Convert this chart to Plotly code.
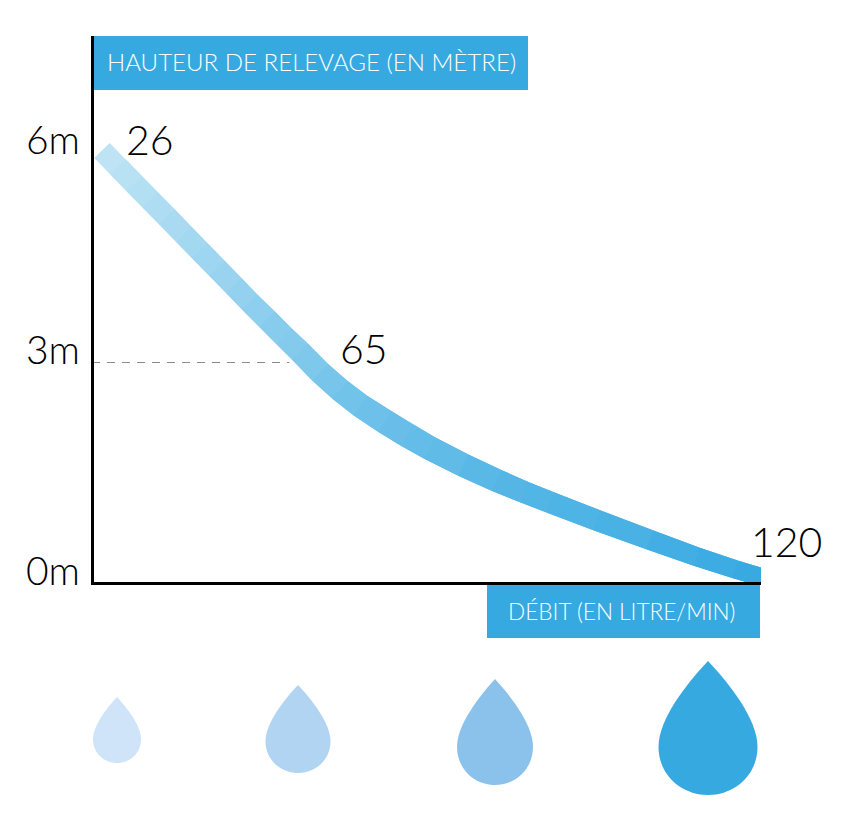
import math
import plotly.graph_objects as go

# ---- data ----
curve_x = [1.5, 3.9, 6.3, 8.7, 11.2, 13.75, 16.1, 18.7, 21.2, 23.6, 26.2, 28.7, 31.1, 34.1,
           37.1, 40.1, 43.8, 47.1, 50.5, 55.5, 60.5, 64.7, 68.5, 75.5, 83.4, 90.4, 96.1, 101]
curve_y = [5.87, 5.65, 5.42, 5.20, 4.97, 4.73, 4.51, 4.27, 4.04, 3.81, 3.58, 3.35, 3.14, 2.86,
           2.62, 2.41, 2.19, 2.006, 1.83, 1.60, 1.39, 1.23, 1.094, 0.848, 0.584, 0.357, 0.187, 0.054]
reference_x = [0, 29.5]
reference_y = [2.993, 2.993]
y_labels = ["6m", "3m", "0m"]
flow_labels = ["26", "65", "120"]
y_title = "HAUTEUR DE RELEVAGE (EN MÈTRE)"
x_title = "DÉBIT (EN LITRE/MIN)"

# ---- layout constants (pixels of the 856x813 page) ----
W, H = 856, 813
AX_L, AX_R, AX_T, AX_B = 94, 761, 36, 582
PX_PER_PCT, PX_PER_M = 6.69, 73.67
FONT = "Lato Light, Lato"
BLUE = "#36A9E1"
GRAD_A = (190, 227, 245)
GRAD_B = (54, 169, 225)
WIDTHS = [21.5, 21.5, 21.5, 21.5, 21.5, 21.5, 21.5, 21.5, 21.5, 21.5, 22, 22, 22.5, 23, 23.5, 24, 24.5,
          24.5, 24, 23.5, 23, 22, 21.5, 21, 20, 19, 18.5, 18]


def px(x):
    return x / W


def py(y):
    return 1 - y / H


fig = go.Figure()

fig.add_trace(go.Scatter(x=reference_x, y=reference_y, mode="lines", showlegend=False, hoverinfo="skip",
                         line=dict(color="#8a8a8a", width=1, dash="8px,7px")))

# ribbon of the thick curve: each piece is a quad around the centre line, so the gradient has no seams
n = len(curve_x)
left, right = [], []
for i in range(n):
    a, b = max(i - 1, 0), min(i + 1, n - 1)
    dx = (curve_x[b] - curve_x[a]) * PX_PER_PCT
    dy = (curve_y[b] - curve_y[a]) * PX_PER_M
    d = math.hypot(dx, dy)
    nx, ny = -dy / d, dx / d
    hw = WIDTHS[i] / 2
    left.append((curve_x[i] + nx * hw / PX_PER_PCT, curve_y[i] + ny * hw / PX_PER_M))
    right.append((curve_x[i] - nx * hw / PX_PER_PCT, curve_y[i] - ny * hw / PX_PER_M))

for i in range(n - 1):
    t = (curve_y[0] - curve_y[i]) / (curve_y[0] - curve_y[-1])
    col = f"rgb({','.join(str(round(a + (b - a) * t)) for a, b in zip(GRAD_A, GRAD_B))})"
    j = min(i + 2, n - 1)
    xs = [p[0] for p in left[i:j + 1]] + [p[0] for p in right[i:j + 1]][::-1]
    ys = [p[1] for p in left[i:j + 1]] + [p[1] for p in right[i:j + 1]][::-1]
    fig.add_trace(go.Scatter(x=xs, y=ys, mode="lines", fill="toself", fillcolor=col, showlegend=False,
                             hoverinfo="skip", line=dict(width=0, color=col)))

shapes = [
    dict(type="rect", xref="paper", yref="paper", x0=px(93), x1=px(528), y0=py(36), y1=py(90),
         fillcolor=BLUE, line_width=0, layer="below"),
    dict(type="rect", xref="paper", yref="paper", x0=px(487), x1=px(760), y0=py(584), y1=py(638),
         fillcolor=BLUE, line_width=0, layer="below"),
]

drops = [(117, 697, 763, 48, "#CFE4F9"), (298, 685, 773, 65, "#B1D4F3"),
         (495, 679, 785, 76, "#8BC2EB"), (708, 661, 795, 99, BLUE)]
for cx, top, bot, w, col in drops:
    h = bot - top
    def P(dx, dy):
        return f"{px(cx + dx * w):.5f},{py(top + dy * h):.5f}"
    path = (f"M{P(0, 0)} C{P(0.23, 0.18)} {P(0.5, 0.44)} {P(0.5, 0.64)} "
            f"C{P(0.5, 0.85)} {P(0.27, 1)} {P(0, 1)} "
            f"C{P(-0.27, 1)} {P(-0.5, 0.85)} {P(-0.5, 0.64)} "
            f"C{P(-0.5, 0.44)} {P(-0.23, 0.18)} {P(0, 0)} Z")
    shapes.append(dict(type="path", xref="paper", yref="paper", path=path, fillcolor=col, line_width=0, layer="below"))

ann = []
for txt, y in zip(y_labels, [139, 349, 570]):
    ann.append(dict(text=txt, xref="paper", yref="paper", x=px(82), y=py(y), xanchor="right", yanchor="middle",
                    showarrow=False, font=dict(family=FONT, size=39, color="#000")))
for txt, x, y in zip(flow_labels, [150, 364, 786], [139, 349, 541]):
    ann.append(dict(text=txt, xref="paper", yref="paper", x=px(x), y=py(y), xanchor="center", yanchor="middle",
                    showarrow=False, font=dict(family=FONT, size=41, color="#000")))
ann.append(dict(text=y_title, xref="paper", yref="paper", x=px(311), y=py(62), xanchor="center", yanchor="middle",
                showarrow=False, font=dict(family=FONT, size=24.1, color="#fff")))
ann.append(dict(text=x_title, xref="paper", yref="paper", x=px(621), y=py(611), xanchor="center", yanchor="middle",
                showarrow=False, font=dict(family=FONT, size=22.6, color="#fff")))

fig.update_layout(
    width=W, height=H, margin=dict(l=0, r=0, t=0, b=0), paper_bgcolor="white", plot_bgcolor="white",
    showlegend=False, shapes=shapes, annotations=ann,
    xaxis=dict(domain=[px(AX_L), px(AX_R)], range=[(AX_L - 92) / PX_PER_PCT, (AX_R - 92) / PX_PER_PCT],
               showgrid=False, zeroline=False, showticklabels=False, ticks="", showline=True,
               linecolor="#000", linewidth=3, layer="above traces", fixedrange=True),
    yaxis=dict(domain=[py(AX_B), py(AX_T)], range=[(583 - AX_B) / PX_PER_M, (583 - AX_T) / PX_PER_M],
               showgrid=False, zeroline=False, showticklabels=False, ticks="", showline=True,
               linecolor="#000", linewidth=3, layer="above traces", fixedrange=True),
)

fig.write_html("out.html", post_script="document.body.style.margin='0';", config={"displayModeBar": False})
